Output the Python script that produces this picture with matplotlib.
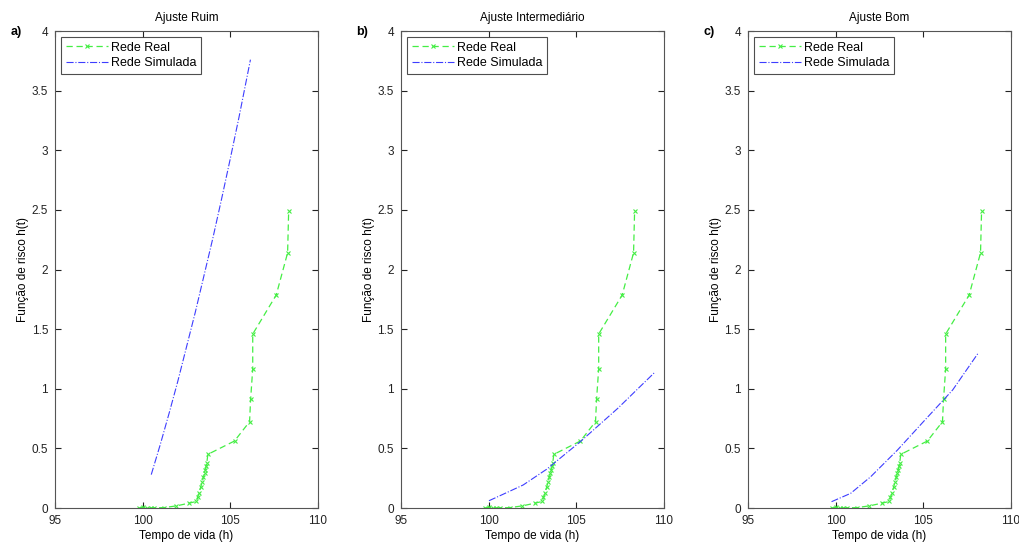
import matplotlib.pyplot as plt

plt.rcParams['font.family'] = ['Liberation Sans', 'DejaVu Sans']

# tempo de vida (h) x funcao de risco - rede real (igual nos tres casos)
real_t = [99.8, 100.0, 100.25, 100.45, 100.65, 101.2, 101.93, 102.62, 103.07,
          103.13, 103.22, 103.32, 103.4, 103.47, 103.53, 103.58, 103.62, 103.66,
          103.72, 105.24, 106.1, 106.16, 106.28, 106.28, 107.62, 108.27, 108.33]
real_h = [0.0, 0.005, 0.0, 0.0, 0.002, 0.003, 0.018, 0.04, 0.055,
          0.09, 0.125, 0.18, 0.22, 0.26, 0.29, 0.32, 0.35, 0.38,
          0.45, 0.562, 0.724, 0.912, 1.168, 1.459, 1.786, 2.14, 2.49]

# rede simulada para cada ajuste
ruim_t = [100.49, 101.0, 101.5, 102.0, 102.5, 103.0, 103.5, 104.0, 104.5,
          105.0, 105.5, 106.15]
ruim_h = [0.28, 0.53, 0.79, 1.06, 1.35, 1.64, 1.95, 2.26, 2.59, 2.93, 3.28, 3.76]

inter_t = [100.02, 101.0, 101.97, 103.33, 104.3, 105.23, 106.2, 107.37, 108.5, 109.46]
inter_h = [0.061, 0.127, 0.193, 0.327, 0.444, 0.556, 0.683, 0.836, 0.998, 1.135]

bom_t = [99.77, 100.86, 102.0, 103.53, 105.06, 106.68, 108.15]
bom_h = [0.053, 0.123, 0.262, 0.486, 0.732, 0.99, 1.302]

titles = ['Ajuste Ruim', 'Ajuste Intermediário', 'Ajuste Bom']
letters = ['a)', 'b)', 'c)']
sims = [(ruim_t, ruim_h), (inter_t, inter_h), (bom_t, bom_h)]

xticks = [95, 100, 105, 110]
yticks = [0, 0.5, 1, 1.5, 2, 2.5, 3, 3.5, 4]
ytick_labels = ['0', '0.5', '1', '1.5', '2', '2.5', '3', '3.5', '4']

fig = plt.figure(figsize=(10.19, 5.42), dpi=100)
fig.set_facecolor('white')

lefts = [0.054, 0.3935, 0.734]
width = 0.258
bottom = 0.0627
height = 0.880

for i in range(3):
    ax = fig.add_axes([lefts[i], bottom, width, height])
    ax.plot(real_t, real_h, '--x', color='#44ee44', lw=0.9, markersize=3.5,
            markeredgewidth=0.8, dashes=(5, 3), label='Rede Real')
    ax.plot(sims[i][0], sims[i][1], '-.', color='#3d3dff', lw=0.8,
            label='Rede Simulada')

    ax.set_xlim(95, 110)
    ax.set_ylim(0, 4)
    ax.set_xticks(xticks)
    ax.set_yticks(yticks)
    ax.set_yticklabels(ytick_labels)
    ax.tick_params(direction='in', length=4, width=0.8, labelsize=8.5,
                   top=True, right=True, pad=5, colors='#222222')
    for sp in ax.spines.values():
        sp.set_linewidth(0.8)
        sp.set_color('#555555')

    ax.set_title(titles[i], fontsize=8.5, pad=7)
    ax.set_xlabel('Tempo de vida (h)', fontsize=8.5, labelpad=2)
    ax.set_ylabel('Função de risco h(t)', fontsize=8.5, labelpad=2)

    leg = ax.legend(loc='upper left', fontsize=9, frameon=True, fancybox=False,
                    borderpad=0.4, handlelength=3.4, handletextpad=0.2,
                    labelspacing=0.3, borderaxespad=0.45)
    leg.get_frame().set_edgecolor('#222222')
    leg.get_frame().set_linewidth(0.8)

    fig.text(lefts[i] - 0.044, 0.935, letters[i], fontsize=9, fontweight='bold')

fig.savefig('out.png', dpi=100, facecolor='white')
